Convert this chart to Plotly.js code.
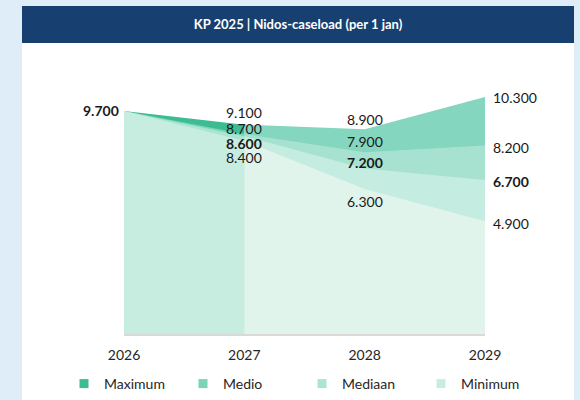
<!DOCTYPE html>
<html>
<head>
<meta charset="utf-8">
<script src="https://cdn.plot.ly/plotly-3.0.1.min.js"></script>
<style>
  html, body { margin: 0; padding: 0; background: #deedf8; }
  #chart { width: 580px; height: 400px; }
</style>
</head>
<body>
<div id="chart"></div>
<script>
// KP 2025 - Nidos caseload per 1 januari
var years = [2026, 2027, 2028, 2029];
var maximum = [9700, 9100, 8900, 10300];
var medio = [9700, 8700, 7900, 8200];
var mediaan = [9700, 8600, 7200, 6700];
var minimum = [9700, 8400, 6300, 4900];
var seriesNames = ['Maximum', 'Medio', 'Mediaan', 'Minimum'];

var series = [maximum, medio, mediaan, minimum];
// first colour: 2026-2027, second colour: 2027-2029
var colorsA = ['#3dbb92', '#7bd4b8', '#aae4d2', '#c6ede0'];
var colorsB = ['#84d6bf', '#a6e2cf', '#c5ece0', '#e0f4ec'];

function fmt(v) {
    var s = String(v);
    return s.length > 3 ? s.slice(0, s.length - 3) + '.' + s.slice(-3) : s;
}

var data = [];
series.forEach(function (vals, i) {
    data.push({
        x: years.slice(0, 2), y: vals.slice(0, 2),
        type: 'scatter', mode: 'lines', fill: 'tozeroy',
        line: {width: 0}, fillcolor: colorsA[i],
        showlegend: false, hoverinfo: 'skip'
    });
    data.push({
        x: years.slice(1), y: vals.slice(1),
        type: 'scatter', mode: 'lines', fill: 'tozeroy',
        line: {width: 0}, fillcolor: colorsB[i],
        showlegend: false, hoverinfo: 'skip'
    });
});
// legend entries (square swatches)
seriesNames.forEach(function (name, i) {
    data.push({
        x: [null], y: [null], name: name,
        type: 'scatter', mode: 'markers',
        marker: {symbol: 'square', size: 9, color: colorsA[i]},
        hoverinfo: 'skip'
    });
});

// label nudges in px, per year column and series (keeps them apart)
var labelShift = [
    [0, 0, 0, 0],
    [12, 5, -7, -17],
    [10, 11, 6, -12],
    [0, -2, -2, -2]
];

var annotations = [];
annotations.push({
    x: years[0], y: maximum[0], text: '<b>' + fmt(maximum[0]) + '</b>',
    xanchor: 'right', yanchor: 'middle', xshift: -3, showarrow: false,
    font: {family: 'Lato', size: 14, color: '#1a1a1a'}
});
for (var c = 1; c < years.length; c++) {
    series.forEach(function (vals, i) {
        var bold = i === 2;
        annotations.push({
            x: years[c], y: vals[c],
            text: bold ? '<b>' + fmt(vals[c]) + '</b>' : fmt(vals[c]),
            xanchor: c === years.length - 1 ? 'left' : 'center',
            xshift: c === years.length - 1 ? 6 : 0,
            yanchor: 'middle', yshift: labelShift[c][i],
            showarrow: false,
            font: {family: 'Lato', size: 14, color: '#1a1a1a'}
        });
    });
}

// card and header in paper coordinates (plot area 124..485 x, 58..334 y)
function px(x) { return (x - 124) / 361; }
function py(y) { return (334 - y) / 276; }

var layout = {
    width: 580, height: 400,
    margin: {l: 124, r: 95, t: 58, b: 66, autoexpand: false},
    paper_bgcolor: '#deedf8',
    plot_bgcolor: 'rgba(0,0,0,0)',
    font: {family: 'Lato', size: 14, color: '#262626'},
    title: {
        text: '<b>KP 2025 | Nidos-caseload (per 1 jan)</b>',
        font: {family: 'Lato', size: 13, color: '#ffffff'},
        x: 298 / 580, xref: 'container', xanchor: 'center',
        y: 1 - 24.5 / 400, yref: 'container', yanchor: 'middle'
    },
    xaxis: {
        range: [2026, 2029], tickvals: years, ticktext: years.map(String),
        showgrid: false, zeroline: false, ticks: '', ticklabelstandoff: 7,
        showline: true, linecolor: '#d9d9d9', linewidth: 2,
        tickfont: {family: 'Lato', size: 14, color: '#262626'}
    },
    yaxis: {
        range: [0, 12000], visible: false, showgrid: false, zeroline: false
    },
    showlegend: true,
    legend: {
        orientation: 'h',
        x: px(64), xanchor: 'left',
        y: py(384), yanchor: 'middle',
        entrywidth: 74, entrywidthmode: 'pixels',
        bgcolor: 'rgba(0,0,0,0)',
        font: {family: 'Lato', size: 14, color: '#262626'}
    },
    shapes: [
        {type: 'rect', xref: 'paper', yref: 'paper', layer: 'below',
         x0: px(22), x1: px(574), y0: py(43), y1: py(402),
         fillcolor: '#ffffff', line: {width: 0}},
        {type: 'rect', xref: 'paper', yref: 'paper', layer: 'below',
         x0: px(22), x1: px(574), y0: py(6), y1: py(43),
         fillcolor: '#174070', line: {width: 0}}
    ],
    annotations: annotations
};

Plotly.newPlot('chart', data, layout, {staticPlot: true, displayModeBar: false});
</script>
</body>
</html>
